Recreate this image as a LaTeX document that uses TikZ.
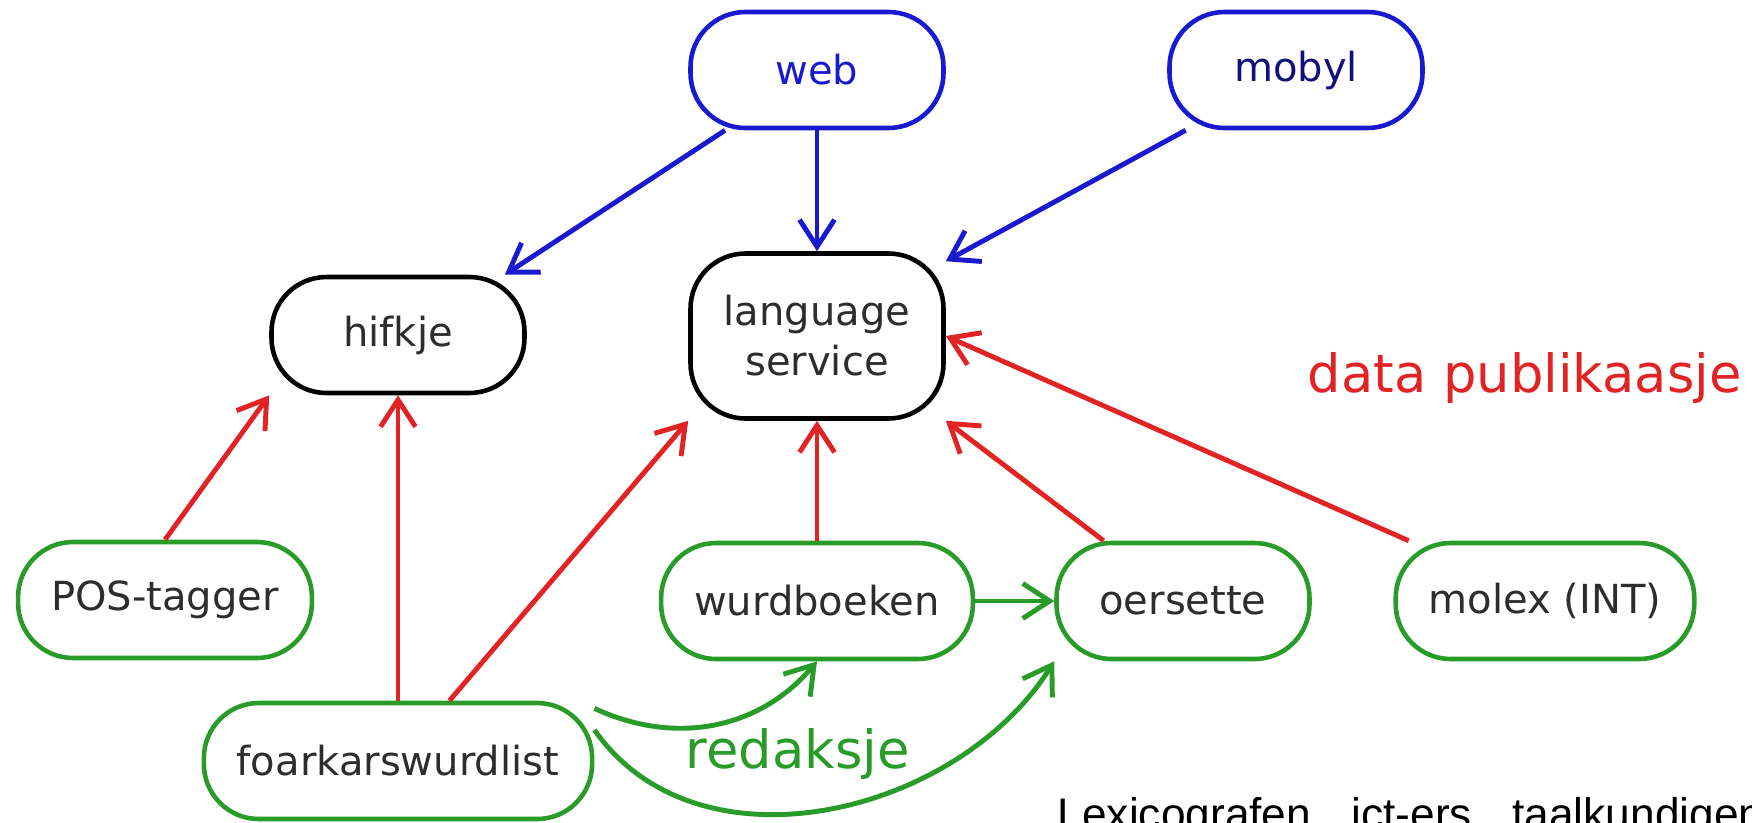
\documentclass[tikz,border=0pt]{standalone}
\usepackage{fontspec}
\setmainfont{DejaVu Sans}
\newfontfamily\lexfont{Liberation Sans}
\usetikzlibrary{arrows.meta}

\definecolor{webblue}{RGB}{25,25,210}
\definecolor{pubred}{RGB}{225,35,35}
\definecolor{editgreen}{RGB}{40,155,40}
\definecolor{textgray}{RGB}{45,45,45}

\begin{document}
\begin{tikzpicture}[
		pill/.style={draw, rounded corners=0.55cm, minimum width=2.53cm, minimum height=1.16cm, inner xsep=0.33cm, line width=1.3pt, align=center, text=textgray, font=\fontsize{11.4}{14.2}\selectfont},
		bluepill/.style={pill, draw=webblue},
		blackpill/.style={pill, draw=black},
		greenpill/.style={pill, draw=editgreen},
		conn/.style={line width=1.4pt, -{Straight Barb[length=2.7mm,width=3.5mm]}},
		useconn/.style={conn, webblue},
		pubconn/.style={conn, pubred},
		editconn/.style={conn, editgreen}
		]
		\useasboundingbox (0,0) rectangle (17.52,-8.22);
		\clip (0,0) rectangle (17.52,-8.22);

		% front ends
		\node[bluepill, text=webblue] (web) at (8.17,-0.70) {web};
		\node[bluepill, text=webblue!60!black] (mobyl) at (12.96,-0.70) {mobyl};

		% services
		\node[blackpill] (hifkje) at (3.98,-3.35) {hifkje};
		\node[blackpill, minimum height=1.65cm] (ls) at (8.17,-3.36) {language\\service};

		% data
		\node[greenpill] (pos) at (1.65,-6.00) {POS-tagger};
		\node[greenpill] (wurd) at (8.17,-6.01) {wurdboeken};
		\node[greenpill] (oers) at (11.83,-6.01) {oersette};
		\node[greenpill] (molex) at (15.45,-6.01) {molex (INT)};
		\node[greenpill] (foark) at (3.98,-7.61) {foarkarswurdlist};

		\draw[useconn] (web) -- ([xshift=-0.22cm]hifkje.north east);
		\draw[useconn] (web) -- (ls);
		\draw[useconn] (mobyl) -- ([yshift=-0.1cm]ls.north east);

		\draw[pubconn] (pos.north) -- (hifkje.south west);
		\draw[pubconn] (foark.north) -- (hifkje.south);
		\draw[pubconn] (foark) -- (ls.south west);
		\draw[pubconn] (wurd) -- (ls);
		\draw[pubconn] (oers) -- (ls.south east);
		\draw[pubconn] (molex) -- (ls.east);

		\draw[editconn] (wurd) -- (oers);
		\draw[editconn] (foark.15) to[out=-25, in=-130] (wurd.south);
		\draw[editconn] (foark.9) to[out=-55, in=-122] (oers.south west);

		% labels
		\node[anchor=base west, text=pubred, font=\fontsize{15}{18}\selectfont, inner sep=0pt] (publabel) at (13.07,-3.92) {data publikaasje};
		\node[anchor=base west, text=editgreen, font=\fontsize{15}{18}\selectfont, inner sep=0pt] (editlabel) at (6.85,-7.68) {redaksje};
		\node[anchor=base west, font=\lexfont\fontsize{12.6}{15}\selectfont, inner sep=0pt] (people) at (10.57,-8.29) {Lexicografen,\hspace{0.28cm}ict-ers,\hspace{0.28cm}taalkundigen};
\end{tikzpicture}
\end{document}
